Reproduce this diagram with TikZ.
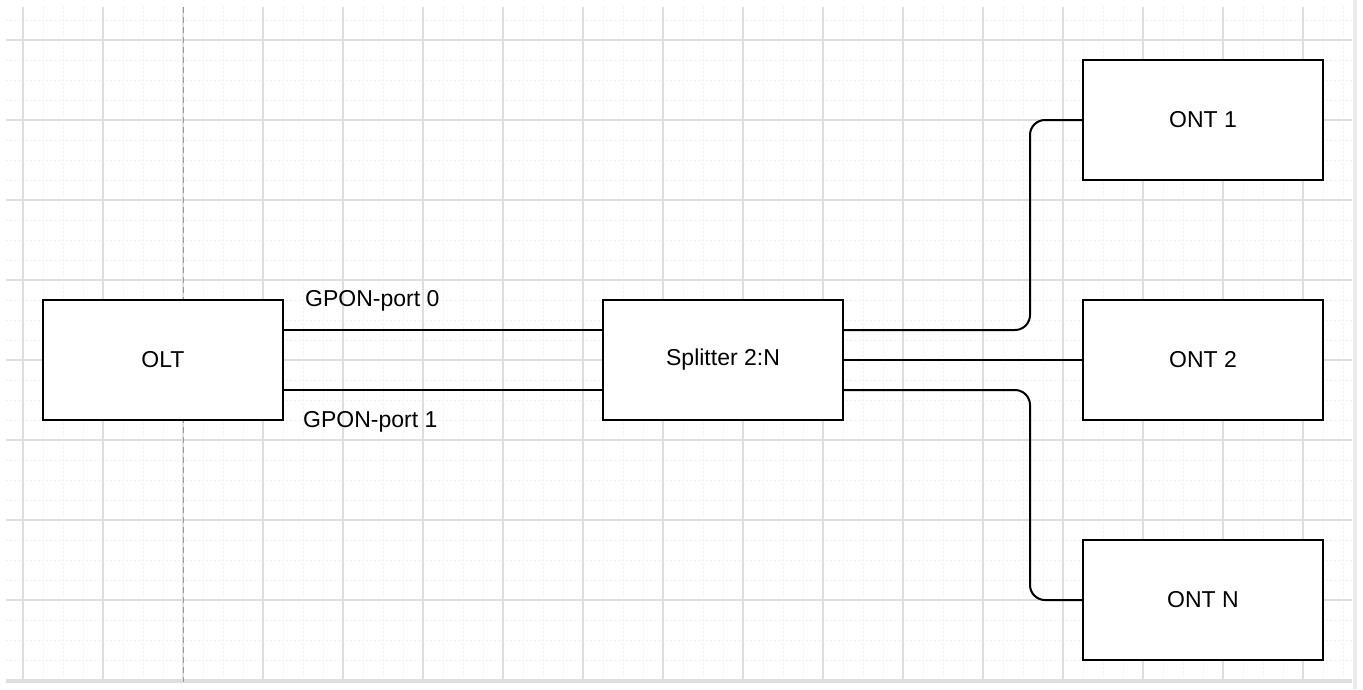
\documentclass[tikz,border=0pt]{standalone}
\usepackage{fontspec}
\setmainfont{Liberation Sans}
\begin{document}
\begin{tikzpicture}[x=1pt,y=-1pt,
  box/.style={draw=black,line width=2pt,fill=white,minimum width=240pt,minimum height=120pt,inner sep=0pt,font=\fontsize{23}{27}\selectfont},
  lbl/.style={inner sep=0pt,font=\fontsize{23}{27}\selectfont},
  wire/.style={draw=black,line width=2pt,rounded corners=15pt},
  minorgrid/.style={draw=black!6,line width=1pt,dash pattern=on 2pt off 2pt},
  majorgrid/.style={draw=black!13,line width=1.2pt}]
\useasboundingbox (0,0) rectangle (1363,689);
\fill[white] (0,0) rectangle (1363,689);
% grid
\foreach \x in {23,43,...,1343} {\draw[minorgrid] (\x,7) -- (\x,682);}
\foreach \y in {20,40,...,680} {\draw[minorgrid] (6,\y) -- (1352,\y);}
\foreach \x in {23,103,...,1343} {\draw[majorgrid] (\x,7) -- (\x,682);}
\foreach \y in {40,120,...,680} {\draw[majorgrid] (6,\y) -- (1352,\y);}
\draw[majorgrid] (6,682) -- (1352,682);
\fill[black!8] (1353,0) rectangle (1357,689);
\draw[black!40,line width=1pt,dash pattern=on 6pt off 4pt] (183,7) -- (183,682);
% nodes
\node[box] (olt) at (163,360) {OLT};
\node[box] (spl) at (723,360) {Splitter 2:N};
\node[box] (ont1) at (1203,120) {ONT 1};
\node[box] (ont2) at (1203,360) {ONT 2};
\node[box] (ontn) at (1203,600) {ONT N};
% connectors
\draw[wire] ([yshift=30pt]olt.east) -- ([yshift=30pt]spl.west);
\draw[wire] ([yshift=-30pt]olt.east) -- ([yshift=-30pt]spl.west);
\coordinate (c1) at (1030,0);
\draw[wire] ([yshift=30pt]spl.east) -- ([yshift=30pt]spl.east -| c1) -- (c1 |- ont1.west) -- (ont1.west);
\draw[wire] (spl.east) -- (ont2.west);
\draw[wire] ([yshift=-30pt]spl.east) -- ([yshift=-30pt]spl.east -| c1) -- (c1 |- ontn.west) -- (ontn.west);
% labels
\node[lbl,anchor=base west] (p0) at (305,306) {GPON-port 0};
\node[lbl,anchor=base west] (p1) at (303,427) {GPON-port 1};
\end{tikzpicture}
\end{document}
